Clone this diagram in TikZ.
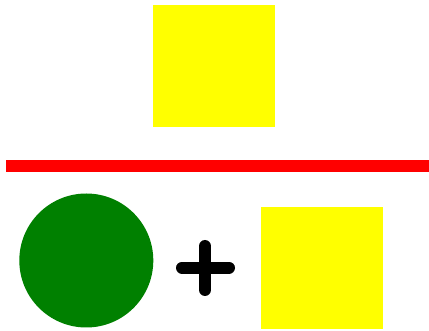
\documentclass[tikz,border=0pt]{standalone}
\definecolor{sqyellow}{RGB}{255,255,0}
\definecolor{barred}{RGB}{255,0,0}
\definecolor{circgreen}{RGB}{0,128,0}
\begin{document}
\begin{tikzpicture}[x=1pt,y=-1pt,
  sq/.style={fill=sqyellow,draw=none,minimum size=122pt,inner sep=0pt,outer sep=0pt},
  plusline/.style={line width=12pt,line cap=round,black}]
\useasboundingbox (0,0) rectangle (429,331);
\node[sq] (top) at (214,66) {};
\fill[barred] (5.5,160.3) rectangle (428.7,172.3);
\fill[circgreen] (86.3,260.5) circle (67);
\draw[plusline] (182,267.7) -- (229,267.7);
\draw[plusline] (205,246) -- (205,290);
\node[sq] (bottom) at (322,268) {};
\end{tikzpicture}
\end{document}
